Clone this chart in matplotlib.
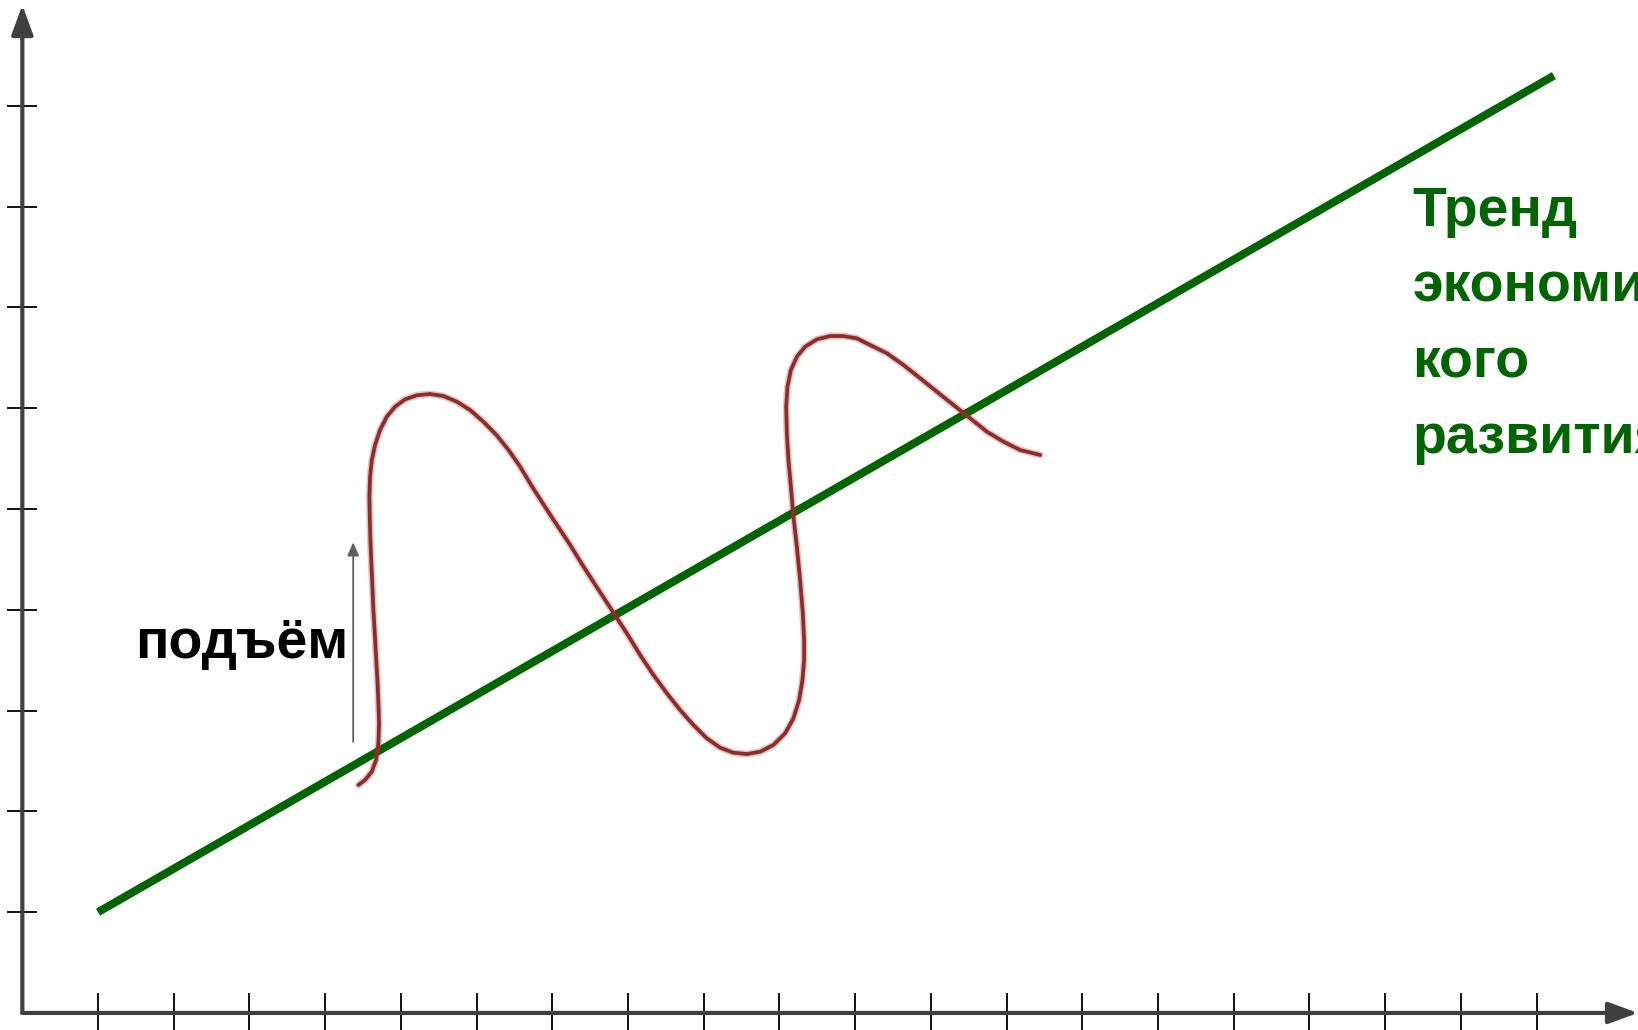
import matplotlib.pyplot as plt

# ticks on the axes (no labels in the picture)
x_ticks = list(range(1, 21))
y_ticks = list(range(1, 10))

# trend line of economic development
trend_x = [1.0, 20.23]
trend_y = [1.0, 9.30]

# business cycle curve
cycle_x = [4.439, 4.527, 4.616, 4.672, 4.703, 4.712, 4.703, 4.690, 4.672, 4.655,
           4.637, 4.624, 4.610, 4.597, 4.589, 4.584, 4.593, 4.616, 4.659, 4.725,
           4.814, 4.923, 5.055, 5.210, 5.386, 5.561, 5.738, 5.914, 6.090, 6.262,
           6.423, 6.575, 6.720, 6.874, 7.046, 7.222, 7.399, 7.584, 7.770,
           7.984, 8.160, 8.336, 8.513, 8.688, 8.864, 9.041, 9.217, 9.392, 9.569,
           9.745, 9.921, 10.075, 10.185, 10.260, 10.304, 10.326, 10.326, 10.309, 10.273,
           10.230, 10.185, 10.151, 10.119, 10.098, 10.089, 10.106, 10.151, 10.230, 10.339,
           10.494, 10.670, 10.845,
           11.022, 11.198, 11.419, 11.638, 11.859, 12.079, 12.299, 12.519, 12.740, 12.959,
           13.180, 13.444]
cycle_y = [2.262, 2.312, 2.394, 2.510, 2.676, 2.874, 3.072, 3.304, 3.535, 3.767,
           3.998, 4.229, 4.461, 4.692, 4.924, 5.122, 5.320, 5.486, 5.635, 5.784,
           5.916, 6.015, 6.088, 6.128, 6.141, 6.121, 6.065, 5.982, 5.866, 5.734,
           5.585, 5.420, 5.238, 5.057, 4.858, 4.660, 4.444, 4.229, 4.015,
           3.767, 3.552, 3.353, 3.172, 3.006, 2.857, 2.725, 2.632, 2.582, 2.569,
           2.592, 2.659, 2.775, 2.924, 3.105, 3.304, 3.502, 3.700, 3.965, 4.296,
           4.626, 4.924, 5.221, 5.486, 5.751, 6.015, 6.213, 6.379, 6.511, 6.610,
           6.683, 6.716, 6.716,
           6.693, 6.627, 6.545, 6.429, 6.297, 6.164, 6.032, 5.900, 5.767, 5.668,
           5.585, 5.536]

# small arrow next to the label "подъём"
rise_x = 4.37
rise_y = [2.69, 4.67]

trend_label = 'Тренд\nэкономичес\nкого\nразвития'
rise_label = 'подъём'

fig = plt.figure(figsize=(16.38, 10.30), dpi=100)
ax = fig.add_axes([0, 0, 1, 1])
ax.set_xlim(-0.295, 21.34)
ax.set_ylim(-0.169, 10.05)

# spines are hidden, the arrows below draw the axes; ticks sit on x=0 / y=0
for side in ['top', 'right']:
    ax.spines[side].set_visible(False)
ax.spines['left'].set_position(('data', 0))
ax.spines['bottom'].set_position(('data', 0))
ax.spines['left'].set_color('none')
ax.spines['bottom'].set_color('none')
ax.set_xticks(x_ticks)
ax.set_yticks(y_ticks)
ax.set_xticklabels([])
ax.set_yticklabels([])
ax.tick_params(axis='x', direction='inout', length=29, width=1.4, color='#111111')
ax.tick_params(axis='y', direction='inout', length=21.6, width=1.4, color='#111111')

axis_arrow = dict(arrowstyle='-|>,head_length=0.9,head_width=0.33', mutation_scale=20,
                  lw=3, color='#404040', shrinkA=0, shrinkB=0)
ax.annotate('', xy=(0, 10.0), xytext=(0, 0), arrowprops=axis_arrow)
ax.annotate('', xy=(21.34, 0), xytext=(0, 0), arrowprops=axis_arrow)

ax.plot(trend_x, trend_y, color='#006400', lw=5.8, solid_capstyle='butt', zorder=3)

# soft edge under the curve, then the curve itself
ax.plot(cycle_x, cycle_y, color='#a04040', lw=5.0, alpha=0.3, solid_joinstyle='round',
        solid_capstyle='round', zorder=4)
ax.plot(cycle_x, cycle_y, color='#8e2b2b', lw=2.7, solid_joinstyle='round',
        solid_capstyle='round', zorder=5)

ax.annotate('', xy=(rise_x, rise_y[1]), xytext=(rise_x, rise_y[0]),
            arrowprops=dict(arrowstyle='-|>,head_length=0.5,head_width=0.22', mutation_scale=16,
                            lw=1.3, color='#606060', shrinkA=0, shrinkB=0))

# va='baseline' puts the baseline of the last line at y
ax.text(18.36, 5.556, trend_label, color='#006400', fontsize=40, fontweight='bold',
        family='Liberation Sans', va='baseline', ha='left', linespacing=1.59, clip_on=False)
ax.text(1.49, 3.52, rise_label, color='black', fontsize=40, fontweight='bold',
        family='Liberation Sans', va='baseline', ha='left')

plt.savefig('out.png', dpi=100)
